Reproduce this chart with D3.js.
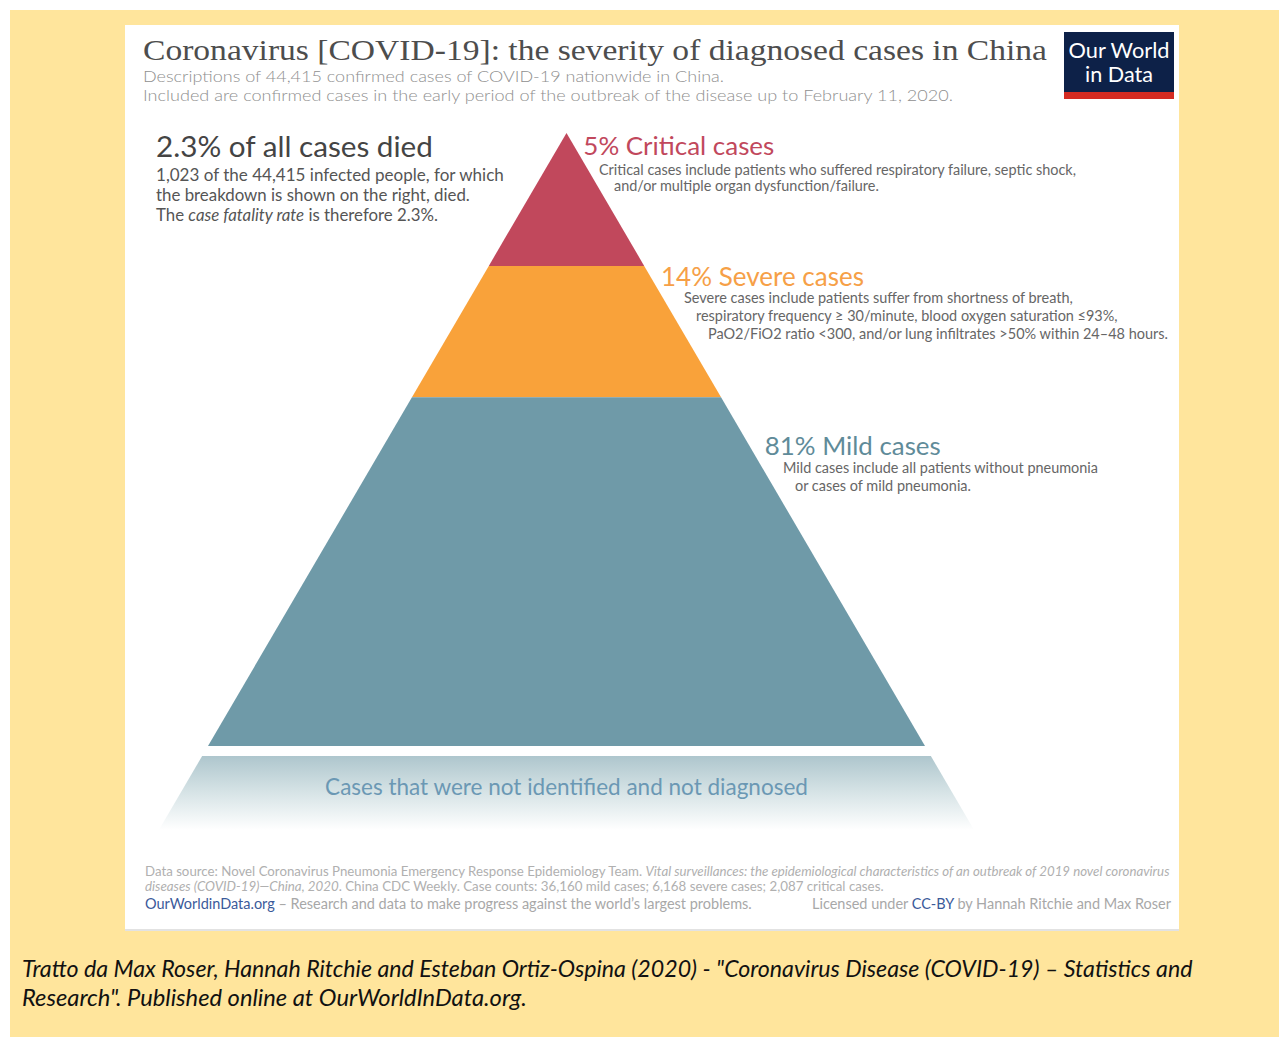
<!DOCTYPE html>
<html><head><meta charset="utf-8">
<script src="https://cdn.jsdelivr.net/npm/d3@7"></script>
<style>
html,body{margin:0;padding:0;background:#fff;}
svg{display:block;}
</style></head>
<body>
<svg id="chart" width="1279" height="1037"></svg>
<script>
// ---------- data ----------
const categories = ["Critical", "Severe", "Mild"];
const caseCounts = [2087, 6168, 36160];
const percents = [5, 14, 81];
const labelTitles = ["5% Critical cases", "14% Severe cases", "81% Mild cases"];
const labelDescriptions = [
  ["Critical cases include patients who suffered respiratory failure, septic shock,",
   "and/or multiple organ dysfunction/failure."],
  ["Severe cases include patients suffer from shortness of breath,",
   "respiratory frequency \u2265 30/minute, blood oxygen saturation \u226493%,",
   "PaO2/FiO2 ratio <300, and/or lung infiltrates >50% within 24\u201348 hours."],
  ["Mild cases include all patients without pneumonia",
   "or cases of mild pneumonia."]
];
const titleText = "Coronavirus [COVID-19]: the severity of diagnosed cases in China";
const subtitleLines = [
  "Descriptions of 44,415 confirmed cases of COVID-19 nationwide in China.",
  "Included are confirmed cases in the early period of the outbreak of the disease up to February 11, 2020."
];
const undiagnosedLabel = "Cases that were not identified and not diagnosed";

// ---------- styles / layout ----------
const segColors = ["#c1485c", "#f9a23a", "#6f9aa8"];
const labelColors = ["#c1485c", "#f6a047", "#5f8b99"];
const W = 1279, H = 1037;
const svg = d3.select("#chart");
const FONT = "Lato, 'Open Sans', sans-serif";

function fit(sel, target) {
  const n = sel.node();
  const w = n.getComputedTextLength();
  const fs = parseFloat(sel.attr("font-size"));
  if (w > 0) sel.attr("font-size", (fs * target / w).toFixed(2));
  return sel;
}

// background
svg.append("rect").attr("x", 0).attr("y", 0).attr("width", W).attr("height", H).attr("fill", "#fff");
svg.append("rect").attr("x", 10).attr("y", 10).attr("width", W - 10).attr("height", H - 10).attr("fill", "#ffe59c");
// card
svg.append("rect").attr("x", 125).attr("y", 27).attr("width", 1054).attr("height", 904).attr("fill", "#e2e2e2");
svg.append("rect").attr("x", 125).attr("y", 25).attr("width", 1054).attr("height", 904).attr("fill", "#fff");

// title
svg.append("text").attr("x", 143).attr("y", 60).attr("font-family", "'Liberation Serif', 'DejaVu Serif', serif")
  .attr("font-size", 29).attr("fill", "#4d4d4d").attr("textLength", 904).attr("lengthAdjust", "spacingAndGlyphs")
  .text(titleText);
const subW = [581, 810];
subtitleLines.forEach((s, i) => {
  svg.append("text").attr("x", 143).attr("y", 82 + i * 19).attr("font-family", FONT).attr("font-weight", 300)
    .attr("font-size", 15.5).attr("fill", "#8f8f8f").attr("textLength", subW[i]).attr("lengthAdjust", "spacingAndGlyphs")
    .text(s);
});

// logo
const logo = svg.append("g");
logo.append("rect").attr("x", 1064).attr("y", 32).attr("width", 110).attr("height", 67).attr("fill", "#0d2148");
logo.append("rect").attr("x", 1064).attr("y", 92).attr("width", 110).attr("height", 7).attr("fill", "#d42b22");
fit(logo.append("text").attr("x", 1119).attr("y", 58).attr("text-anchor", "middle").attr("font-family", FONT)
  .attr("font-size", 21).attr("fill", "#fff").text("Our World"), 101);
fit(logo.append("text").attr("x", 1119).attr("y", 82).attr("text-anchor", "middle").attr("font-family", FONT)
  .attr("font-size", 21).attr("fill", "#fff").text("in Data"), 68);

// left annotation
fit(svg.append("text").attr("x", 156).attr("y", 157).attr("font-family", FONT).attr("font-size", 28)
  .attr("fill", "#444").text("2.3% of all cases died"), 277);
fit(svg.append("text").attr("x", 156).attr("y", 181).attr("font-family", FONT).attr("font-size", 16)
  .attr("fill", "#555").text("1,023 of the 44,415 infected people, for which"), 348);
fit(svg.append("text").attr("x", 156).attr("y", 201).attr("font-family", FONT).attr("font-size", 16)
  .attr("fill", "#555").text("the breakdown is shown on the right, died."), 314);
const cfr = svg.append("text").attr("x", 156).attr("y", 221).attr("font-family", FONT).attr("font-size", 16).attr("fill", "#555");
cfr.append("tspan").text("The ");
cfr.append("tspan").attr("font-style", "italic").text("case fatality rate");
cfr.append("tspan").text(" is therefore 2.3%.");
fit(cfr, 282);

// ---------- pyramid ----------
const apexY = 133, baseY = 746, cx = 566.5, halfBase = 358.5;
const total = d3.sum(caseCounts);
const yScale = d3.scaleSqrt().domain([0, total]).range([apexY, baseY]);
const halfW = d3.scaleLinear().domain([apexY, baseY]).range([0, halfBase]);
const cum = d3.cumsum(caseCounts);
const segs = categories.map((c, i) => ({
  cat: c, y0: yScale(i === 0 ? 0 : cum[i - 1]), y1: yScale(cum[i]), i
}));
const line = d3.line();
svg.append("g").selectAll("path").data(segs).join("path")
  .attr("d", d => line([
    [cx - halfW(d.y0), d.y0], [cx + halfW(d.y0), d.y0],
    [cx + halfW(d.y1), d.y1], [cx - halfW(d.y1), d.y1]
  ]) + "Z")
  .attr("fill", d => segColors[d.i]);

// undiagnosed gradient trapezoid
const defs = svg.append("defs");
const grad = defs.append("linearGradient").attr("id", "fade").attr("x1", 0).attr("y1", 0).attr("x2", 0).attr("y2", 1);
grad.append("stop").attr("offset", "0%").attr("stop-color", "#aec6cd");
grad.append("stop").attr("offset", "45%").attr("stop-color", "#d3e1e4");
grad.append("stop").attr("offset", "100%").attr("stop-color", "#ffffff");
const tY0 = 756, tY1 = 830;
svg.append("path").attr("d", line([
  [cx - halfW(tY0), tY0], [cx + halfW(tY0), tY0], [cx + halfW(tY1), tY1], [cx - halfW(tY1), tY1]
]) + "Z").attr("fill", "url(#fade)");
fit(svg.append("text").attr("x", cx).attr("y", 795).attr("text-anchor", "middle").attr("font-family", FONT)
  .attr("font-size", 21).attr("fill", "#6b98b4").text(undiagnosedLabel), 483);

// labels
const labelBase = [155, 286, 455];
const labelOffset = [4, 5, 10];
const descBase = [[175, 191], [303, 321, 339], [473, 491]];
const descX = [[599, 614], [684, 696, 708], [783, 795]];
const titleW = [191, 203, 176];
const descW = [[477, 265], [389, 422, 460], [315, 176]];
segs.forEach((d, i) => {
  const lx = cx + halfW(labelBase[i]) + labelOffset[i];
  fit(svg.append("text").attr("x", lx).attr("y", labelBase[i]).attr("font-family", FONT).attr("font-size", 24)
    .attr("fill", labelColors[i]).text(labelTitles[i]), titleW[i]);
  labelDescriptions[i].forEach((t, j) => {
    fit(svg.append("text").attr("x", descX[i][j]).attr("y", descBase[i][j]).attr("font-family", FONT)
      .attr("font-size", 13.5).attr("fill", "#666").text(t), descW[i][j]);
  });
});

// footer
const f1 = svg.append("text").attr("x", 145).attr("y", 876).attr("font-family", FONT).attr("font-size", 11.5).attr("fill", "#b0b0b0");
f1.append("tspan").text("Data source: Novel Coronavirus Pneumonia Emergency Response Epidemiology Team. ");
f1.append("tspan").attr("font-style", "italic").text("Vital surveillances: the epidemiological characteristics of an outbreak of 2019 novel coronavirus");
fit(f1, 1025);
const f2 = svg.append("text").attr("x", 145).attr("y", 891).attr("font-family", FONT).attr("font-size", 11.5).attr("fill", "#b0b0b0");
f2.append("tspan").attr("font-style", "italic").text("diseases (COVID-19)\u2014China, 2020");
f2.append("tspan").text(". China CDC Weekly. Case counts: 36,160 mild cases; 6,168 severe cases; 2,087 critical cases.");
fit(f2, 739);
const f3 = svg.append("text").attr("x", 145).attr("y", 909).attr("font-family", FONT).attr("font-size", 13).attr("fill", "#a8a8a8");
f3.append("tspan").attr("fill", "#3b5a9a").text("OurWorldinData.org");
f3.append("tspan").text(" \u2013 Research and data to make progress against the world\u2019s largest problems.");
fit(f3, 607);
const f4 = svg.append("text").attr("x", 1171).attr("y", 909).attr("text-anchor", "end").attr("font-family", FONT).attr("font-size", 13).attr("fill", "#a8a8a8");
f4.append("tspan").text("Licensed under ");
f4.append("tspan").attr("fill", "#3b5a9a").text("CC-BY");
f4.append("tspan").text(" by Hannah Ritchie and Max Roser");
fit(f4, 359);

// caption
fit(svg.append("text").attr("x", 22).attr("y", 977).attr("font-family", FONT).attr("font-style", "italic")
  .attr("font-size", 21).attr("fill", "#111")
  .text("Tratto da Max Roser, Hannah Ritchie and Esteban Ortiz-Ospina (2020) - \"Coronavirus Disease (COVID-19) \u2013 Statistics and"), 1171);
fit(svg.append("text").attr("x", 22).attr("y", 1006).attr("font-family", FONT).attr("font-style", "italic")
  .attr("font-size", 21).attr("fill", "#111")
  .text("Research\". Published online at OurWorldInData.org."), 505);
</script>
</body></html>
